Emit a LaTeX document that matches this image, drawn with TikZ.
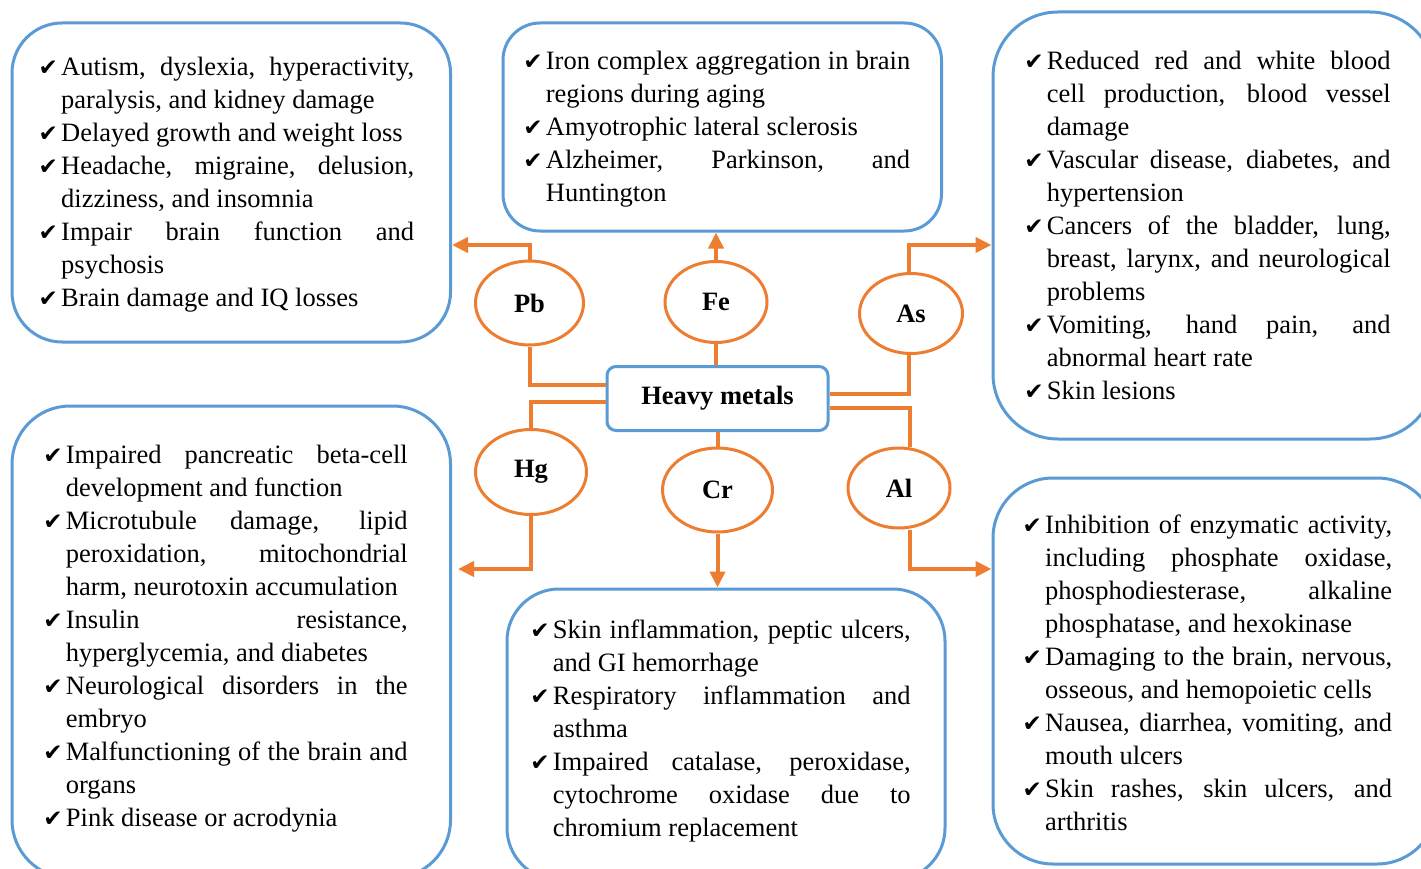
\documentclass[tikz,border=0pt]{standalone}
\usepackage{fontspec}
\setmainfont{Liberation Serif}
\newfontfamily\chkfont{DejaVu Sans}
\usetikzlibrary{shapes.geometric,arrows.meta}
\definecolor{wblue}{HTML}{5B9BD5}
\definecolor{worange}{HTML}{ED7D31}
\hyphenpenalty=10000
\exhyphenpenalty=10000
\tolerance=10000
\hbadness=10000
\newcommand\chk{{\chkfont\fontsize{23}{33}\selectfont ✔}}
\newcommand\itm[1]{\par\noindent\hangindent=22.5pt\hangafter=1\makebox[22.5pt][l]{\chk}\strut#1\par}
\begin{document}
\begin{tikzpicture}[x=1pt,y=-1pt,
  bluebox/.style={draw=wblue, line width=3pt, rectangle, rounded corners=#1, inner sep=0pt},
  txt/.style={anchor=north west, inner sep=0pt, text width=#1, align=justify,
              font=\fontsize{26.5}{33}\selectfont},
  elt/.style={ellipse, draw=worange, line width=3pt, fill=white, inner sep=0pt,
              font=\bfseries\fontsize{26.5}{30}\selectfont},
  hmbox/.style={rectangle, rounded corners=9pt, draw=wblue, line width=3pt, fill=white,
                inner sep=0pt, minimum width=221pt, minimum height=64pt,
                font=\bfseries\fontsize{26.5}{30}\selectfont},
  conn/.style={draw=worange, line width=4pt, line join=miter},
  arr/.style={conn, -{Triangle[length=16pt,width=15pt]}}]
\useasboundingbox (0,0) rectangle (1421,869);
\clip (0,0) rectangle (1421,869);

% outer boxes
\node[bluebox=50pt, minimum width=438.5pt, minimum height=319pt] (tl) at (231.25,182.5) {};
\node[bluebox=37pt, minimum width=438.5pt, minimum height=208pt] (tc) at (722.25,127) {};
\node[bluebox=65pt, minimum width=442pt, minimum height=427pt] (tr) at (1214,225.5) {};
\node[bluebox=58pt, minimum width=438.5pt, minimum height=472pt] (bl) at (231.25,642) {};
\node[bluebox=52pt, minimum width=438pt, minimum height=291pt] (bc) at (726,734.5) {};
\node[bluebox=60pt, minimum width=444pt, minimum height=386pt] (br) at (1215,671) {};

% texts
\node[txt=375.5pt] (tltext) at (38.5,41.9) {%
\itm{Autism, dyslexia, hyperactivity,\linebreak paralysis, and kidney damage}%
\itm{Delayed growth and weight loss}%
\itm{Headache, migraine, delusion,\linebreak dizziness, and insomnia}%
\itm{Impair brain function and\linebreak psychosis}%
\itm{Brain damage and IQ losses}};

\node[txt=386.8pt] (tctext) at (523.2,36.2) {%
\itm{Iron complex aggregation in brain\linebreak regions during aging}%
\itm{Amyotrophic lateral sclerosis}%
\itm{Alzheimer, Parkinson, and\linebreak Huntington}};

\node[txt=366.3pt] (trtext) at (1024.2,36.2) {%
\itm{Reduced red and white blood\linebreak cell production, blood vessel\linebreak damage}%
\itm{Vascular disease, diabetes, and\linebreak hypertension}%
\itm{Cancers of the bladder, lung,\linebreak breast, larynx, and neurological\linebreak problems}%
\itm{Vomiting, hand pain, and\linebreak abnormal heart rate}%
\itm{Skin lesions}};

\node[txt=364.3pt] (bltext) at (43.2,430.4) {%
\itm{Impaired pancreatic beta-cell\linebreak development and function}%
\itm{Microtubule damage, lipid\linebreak peroxidation, mitochondrial\linebreak harm, neurotoxin accumulation}%
\itm{Insulin resistance,\linebreak hyperglycemia, and diabetes}%
\itm{Neurological disorders in the\linebreak embryo}%
\itm{Malfunctioning of the brain and\linebreak organs}%
\itm{Pink disease or acrodynia}};

\node[txt=380.3pt] (bctext) at (530.2,605.4) {%
\itm{Skin inflammation, peptic ulcers,\linebreak and GI hemorrhage}%
\itm{Respiratory inflammation and\linebreak asthma}%
\itm{Impaired catalase, peroxidase,\linebreak cytochrome oxidase due to\linebreak chromium replacement}};

\node[txt=369.5pt] (brtext) at (1022.5,500.1) {%
\itm{Inhibition of enzymatic activity,\linebreak including phosphate oxidase,\linebreak phosphodiesterase, alkaline\linebreak phosphatase, and hexokinase}%
\itm{Damaging to the brain, nervous,\linebreak osseous, and hemopoietic cells}%
\itm{Nausea, diarrhea, vomiting, and\linebreak mouth ulcers}%
\itm{Skin rashes, skin ulcers, and\linebreak arthritis}};

% centre
\node[hmbox] (hm) at (717.5,398.5) {Heavy metals};
\node[elt, minimum width=108pt, minimum height=84pt] (Pb) at (529.5,303) {Pb};
\node[elt, minimum width=102pt, minimum height=81pt] (Fe) at (716,302) {Fe};
\node[elt, minimum width=103pt, minimum height=80pt] (As) at (911,313.5) {As};
\node[elt, minimum width=111pt, minimum height=85pt] (Hg) at (531,472) {Hg};
\node[elt, minimum width=110pt, minimum height=84pt] (Cr) at (717.5,490) {Cr};
\node[elt, minimum width=102pt, minimum height=80pt] (Al) at (899,488) {Al};

\coordinate (yTop) at (0,245);
\coordinate (yBot) at (0,569);

% connectors
\draw[conn] ([yshift=13.5pt]hm.west) -| (Pb.south);
\draw[arr] (Pb.north) |- (tl.east |- yTop);
\draw[conn] ([yshift=-3pt]hm.west) -| (Hg.north);
\draw[arr, shorten >=6pt] (Hg.south) |- (bl.east |- yBot);
\draw[conn] (Fe.south |- hm.north) -- (Fe.south);
\draw[arr] (Fe.north) -- (Fe.north |- tc.south);
\draw[conn] (Cr.north |- hm.south) -- (Cr.north);
\draw[arr] (Cr.south) -- (Cr.south |- bc.north);
\draw[conn] ([yshift=4.5pt]hm.east) -| ([xshift=-2pt]As.south);
\draw[arr] ([xshift=-2pt]As.north) |- (tr.west |- yTop);
\draw[conn] ([yshift=-9pt]hm.east) -| ([xshift=11pt]Al.north);
\draw[arr] ([xshift=11pt]Al.south) |- (br.west |- yBot);
\end{tikzpicture}
\end{document}
